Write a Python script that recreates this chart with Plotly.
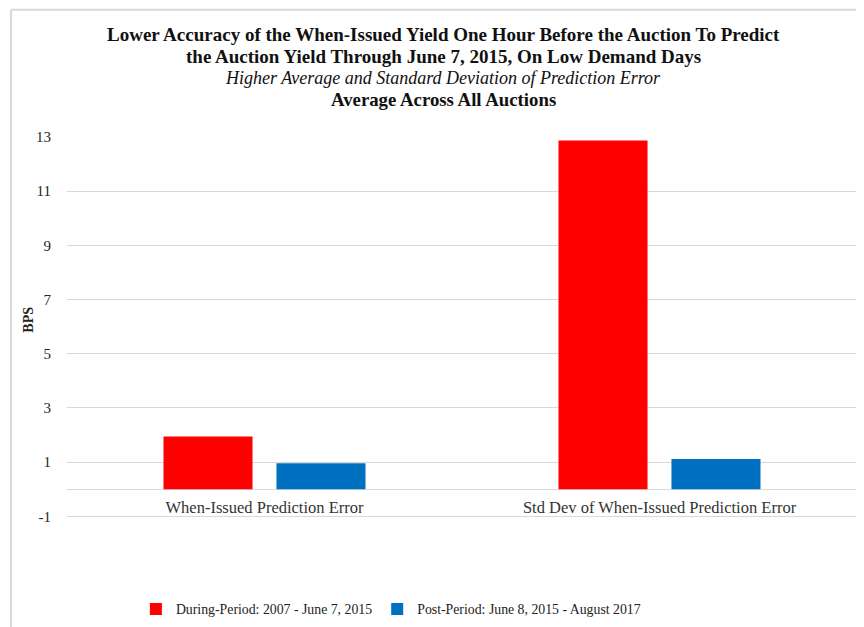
import plotly.graph_objects as go

categories = ["When-Issued Prediction Error", "Std Dev of When-Issued Prediction Error"]
during_values = [1.95, 12.87]
post_values = [0.96, 1.12]
series_names = ["During-Period: 2007 - June 7, 2015", "Post-Period: June 8, 2015 - August 2017"]
y_ticks = [-1, 1, 3, 5, 7, 9, 11, 13]
y_tick_labels = ["-1", "1", "3", "5", "7", "9", "11", "13"]
title_lines = [
    "<b>Lower Accuracy of the When-Issued Yield One Hour Before the Auction To Predict</b>",
    "<b>the Auction Yield Through June 7, 2015, On Low Demand Days</b>",
    "<i>Higher Average and Standard Deviation of Prediction Error</i>",
    "<b>Average Across All Auctions</b>",
]

FONT = "Liberation Serif"
# page has an 8px body margin, so the figure is sized to fit the 864x627 window
W, H = 856, 619
ML, MR, MT, MB = 59, 7, 129, 109.4
pw = W - ML - MR
ph = H - MT - MB


def px_x(x):
    return (x - ML) / pw


def px_y(y):
    return (H - MB - y) / ph


fig = go.Figure()
fig.add_trace(go.Bar(x=categories, y=during_values, name=series_names[0],
                     marker=dict(color="#ff0000", line=dict(width=0))))
fig.add_trace(go.Bar(x=categories, y=post_values, name=series_names[1],
                     marker=dict(color="#0070c0", line=dict(width=0))))

annotations = []
title_y = [27, 49, 70, 92]
title_sizes = [19, 19, 18, 18.8]
for txt, yy, sz in zip(title_lines, title_y, title_sizes):
    annotations.append(dict(text=txt, xref="paper", yref="paper", x=px_x(435), y=px_y(yy),
                            xanchor="center", yanchor="middle", showarrow=False,
                            font=dict(family=FONT, size=sz, color="#111111")))
annotations.append(dict(text="<b>BPS</b>", xref="paper", yref="paper", x=px_x(20.5), y=px_y(312),
                        xanchor="center", yanchor="middle", showarrow=False, textangle=-90,
                        font=dict(family=FONT, size=14, color="#222222")))

fig.update_layout(
    width=W, height=H,
    margin=dict(l=ML, r=MR, t=MT, b=MB, autoexpand=False),
    paper_bgcolor="white", plot_bgcolor="white",
    barmode="group", bargap=0.428, bargroupgap=0.212,
    font=dict(family=FONT, color="#222222"),
    showlegend=True,
    legend=dict(orientation="h", x=0.41, xanchor="center", y=px_y(600.5), yanchor="middle",
                font=dict(family=FONT, size=13.8, color="#222222"),
                itemwidth=30, traceorder="normal"),
    xaxis=dict(showgrid=False, showline=False, ticks="", automargin=False,
               ticklabelstandoff=-23,
               tickfont=dict(family=FONT, size=16.5, color="#333333")),
    yaxis=dict(range=[-1.06, 13], tickvals=y_ticks, ticktext=y_tick_labels,
               showgrid=True, gridcolor="#d9d9d9", gridwidth=1,
               zeroline=True, zerolinecolor="#d9d9d9", zerolinewidth=1, automargin=False,
               showline=False, ticks="outside", ticklen=12, tickcolor="rgba(0,0,0,0)",
               tickfont=dict(family=FONT, size=15, color="#262626")),
    annotations=annotations,
    shapes=[
        dict(type="line", xref="paper", yref="paper", x0=px_x(3), x1=px_x(3), y0=px_y(H + 5), y1=px_y(2),
             line=dict(color="#d9d9d9", width=2), layer="below"),
        dict(type="line", xref="paper", yref="paper", x0=px_x(3), x1=1.0, y0=px_y(2), y1=px_y(2),
             line=dict(color="#d9d9d9", width=2), layer="below"),
    ],
)

fig.write_html("out.html")
